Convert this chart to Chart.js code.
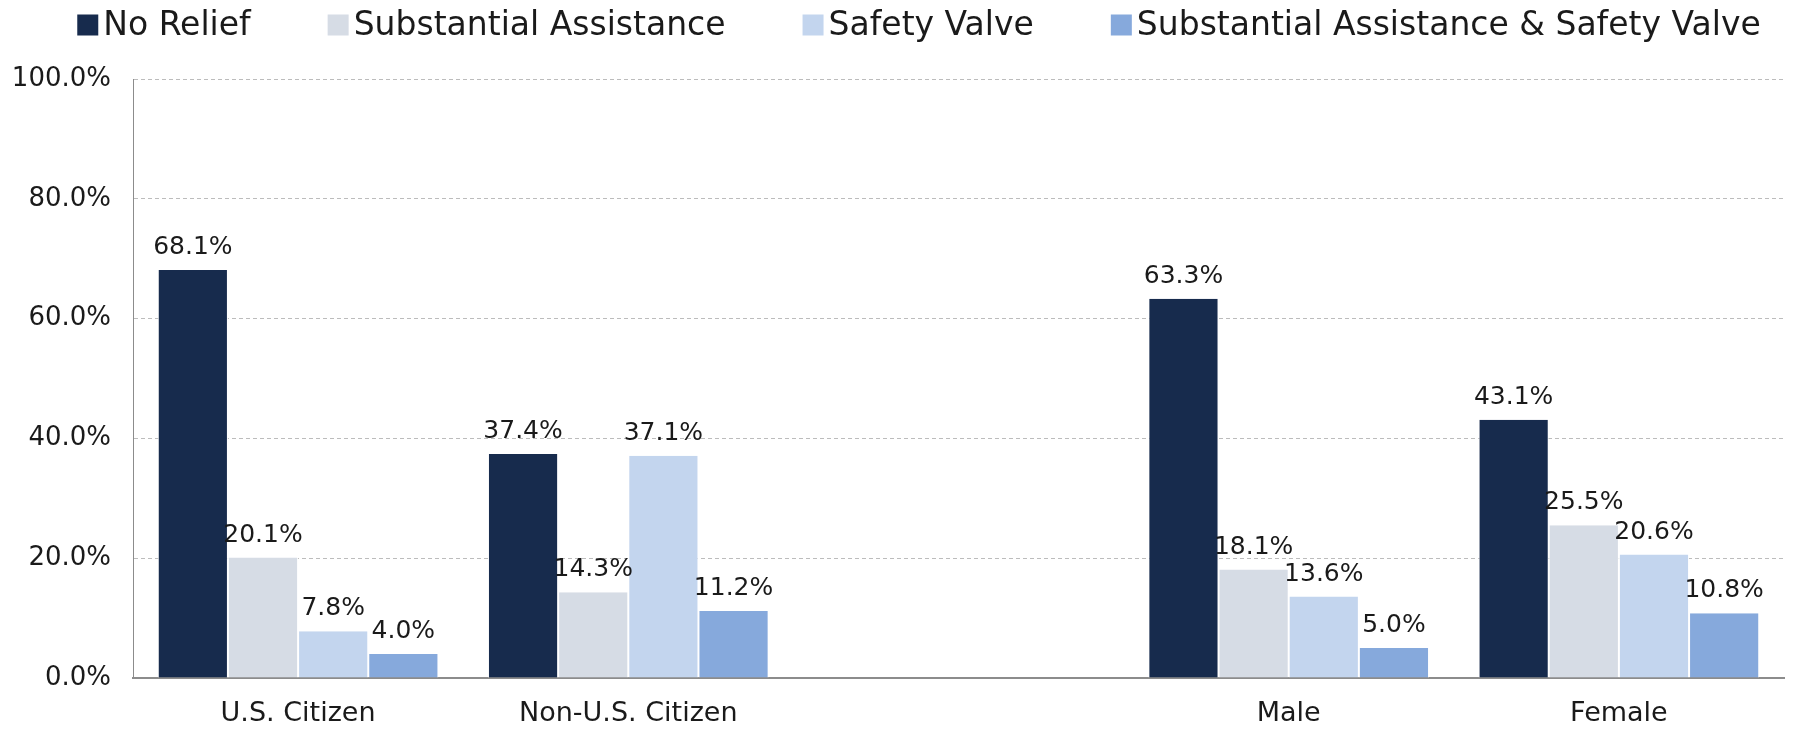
<!DOCTYPE html>
<html>
<head>
<meta charset="utf-8">
<script src="https://cdn.jsdelivr.net/npm/chart.js@4.4.1/dist/chart.umd.min.js"></script>
<style>
  html, body { margin: 0; padding: 0; background: #fff; }
  #wrap { width: 1793px; height: 730px; }
</style>
</head>
<body>
<div id="wrap"><canvas id="chart"></canvas></div>
<script>
// categories (blank slot separates citizenship from gender)
const categories = ["U.S. Citizen", "Non-U.S. Citizen", "", "Male", "Female"];

const noRelief = [68.1, 37.4, null, 63.3, 43.1];
const substantialAssistance = [20.1, 14.3, null, 18.1, 25.5];
const safetyValve = [7.8, 37.1, null, 13.6, 20.6];
const saAndSv = [4.0, 11.2, null, 5.0, 10.8];

const seriesNames = ["No Relief", "Substantial Assistance", "Safety Valve", "Substantial Assistance & Safety Valve"];
const seriesColors = ["#172b4d", "#d6dce5", "#c3d5ee", "#86a9dc"];

const yTicks = [0, 20, 40, 60, 80, 100];

const FONT = "'DejaVu Sans', sans-serif";
const TEXT = "#1a1a1a";

// draws the % value above each bar
const valueLabels = {
  id: "valueLabels",
  afterDatasetsDraw(chart) {
    const ctx = chart.ctx;
    ctx.save();
    ctx.font = "25px " + FONT;
    ctx.fillStyle = TEXT;
    ctx.textAlign = "center";
    ctx.textBaseline = "alphabetic";
    chart.data.datasets.forEach((ds, i) => {
      const meta = chart.getDatasetMeta(i);
      meta.data.forEach((bar, j) => {
        const v = ds.data[j];
        if (v == null) return;
        ctx.fillText(v.toFixed(1) + "%", bar.x, bar.y - 16);
      });
    });
    ctx.restore();
  }
};

// legend drawn by hand so box/text spacing matches the original
const topLegend = {
  id: "topLegend",
  afterDraw(chart) {
    const ctx = chart.ctx;
    const box = 21, textGap = 5, itemGap = 77, cy = 26;
    ctx.save();
    ctx.font = "33px " + FONT;
    const widths = seriesNames.map(n => ctx.measureText(n).width);
    const total = widths.reduce((a, w) => a + box + textGap + w, 0) + itemGap * (seriesNames.length - 1);
    let x = 919 - total / 2;
    ctx.textBaseline = "middle";
    ctx.textAlign = "left";
    seriesNames.forEach((n, i) => {
      ctx.fillStyle = seriesColors[i];
      ctx.fillRect(x, cy - box / 2 - 1, box, box);
      ctx.fillStyle = TEXT;
      ctx.fillText(n, x + box + textGap, cy);
      x += box + textGap + widths[i] + itemGap;
    });
    ctx.restore();
  }
};

const seriesData = [noRelief, substantialAssistance, safetyValve, saAndSv];

new Chart(document.getElementById("chart"), {
  type: "bar",
  data: {
    labels: categories,
    datasets: seriesData.map((d, i) => ({
      label: seriesNames[i],
      data: d,
      backgroundColor: seriesColors[i],
      borderColor: "#ffffff",
      borderWidth: { left: 1, right: 1, top: 0, bottom: 0 },
      categoryPercentage: 0.85,
      barPercentage: 1.0
    }))
  },
  options: {
    responsive: true,
    maintainAspectRatio: false,
    animation: false,
    layout: { padding: { left: 8, right: 9, top: 79, bottom: 4 } },
    plugins: {
      legend: { display: false },
      tooltip: { enabled: false }
    },
    scales: {
      x: {
        afterFit: (scale) => { scale.height = 48; },
        grid: { display: false, drawTicks: false },
        border: { color: "#8c8c8c", width: 2 },
        ticks: {
          font: { family: FONT, size: 27 },
          color: TEXT,
          padding: 20
        }
      },
      y: {
        min: 0,
        max: 100,
        afterBuildTicks: (scale) => { scale.ticks = yTicks.map(v => ({ value: v })); },
        afterFit: (scale) => { scale.width = 125; },
        grid: {
          color: "#bcbcbc",
          lineWidth: 1,
          drawTicks: false
        },
        border: { color: "#8c8c8c", width: 1, dash: [4, 3] },
        ticks: {
          font: { family: FONT, size: 26 },
          color: TEXT,
          padding: 22,
          callback: (v) => v.toFixed(1) + "%"
        }
      }
    }
  },
  plugins: [valueLabels, topLegend]
});
</script>
</body>
</html>
